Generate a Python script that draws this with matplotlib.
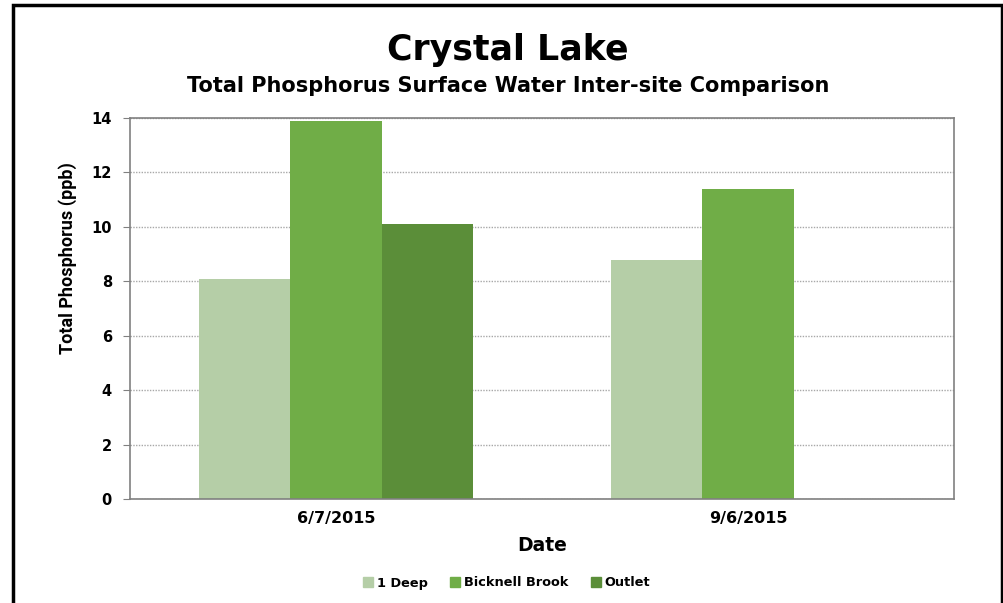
import matplotlib
matplotlib.use("Agg")
import matplotlib.pyplot as plt
import numpy as np
from matplotlib.patches import Rectangle
from matplotlib.lines import Line2D

dates = ["6/7/2015", "9/6/2015"]
series = ["1 Deep", "Bicknell Brook", "Outlet"]
deep = [8.1, 8.8]
bicknell = [13.9, 11.4]
outlet = [10.1, np.nan]
colors = ["#B5CEA7", "#70AD47", "#5B8E39"]
yticks = [0, 2, 4, 6, 8, 10, 12, 14]

W, H = 1004, 603
fig = plt.figure(figsize=(W / 100, H / 100), dpi=100)
fig.patch.set_facecolor("white")

# axes placement in pixels
L, R, T, B = 130, 954, 118, 499
ax = fig.add_axes([L / W, 1 - B / H, (R - L) / W, (B - T) / H])

x = np.arange(len(dates))
gw = 2 / 3
bw = gw / 3
for i, (vals, c, name) in enumerate(zip([deep, bicknell, outlet], colors, series)):
    ax.bar(x + (i - 1) * bw, vals, width=bw, color=c, label=name, zorder=2)

ax.set_xlim(-0.5, len(dates) - 0.5)
ax.set_ylim(0, 14)
ax.set_yticks(yticks)
ax.set_yticklabels([str(t) for t in yticks], fontsize=10.5, fontweight="bold", family="DejaVu Sans")
ax.set_xticks(x)
ax.set_xticklabels(dates, fontsize=11.5, fontweight="bold", family="DejaVu Sans")
ax.tick_params(axis="x", length=0, pad=9)
ax.tick_params(axis="y", length=5, color="#808080", pad=8)
ax.grid(axis="y", color="#A8A8A8", linestyle=(0, (1, 1)), linewidth=1.0, zorder=0)
for s in ax.spines.values():
    s.set_color("#808080")
    s.set_linewidth(1.2)

ax.set_xlabel("Date", fontsize=13.5, fontweight="bold", family="DejaVu Sans", labelpad=7)

fig.text(68 / W, 1 - 258 / H, "Total Phosphorus (ppb)", rotation=90, ha="center", va="center",
         fontsize=13, fontweight="bold", family=["Roboto", "DejaVu Sans"])

fig.text(508 / W, 1 - 50 / H, "Crystal Lake", ha="center", va="center",
         fontsize=25, fontweight="bold", family="DejaVu Sans")
fig.text(508 / W, 1 - 86 / H, "Total Phosphorus Surface Water Inter-site Comparison",
         ha="center", va="center", fontsize=15, fontweight="bold", family="DejaVu Sans")

handles = [Line2D([], [], marker="s", linestyle="", markersize=6.5, color=c) for c in colors]
fig.legend(handles, series, loc="center", bbox_to_anchor=(506 / W, 1 - 583 / H), ncol=3,
           frameon=False, prop={"weight": "bold", "size": 9.3, "family": "DejaVu Sans"},
           handletextpad=0.2, columnspacing=1.6, handlelength=1.0)

# outer border
fig.patches.append(Rectangle((13 / W, -0.05), (1002 - 13) / W, 1 - 5 / H + 0.05,
                             transform=fig.transFigure, fill=False, edgecolor="black",
                             linewidth=2.5, zorder=10))

fig.savefig("out.png", dpi=100)
